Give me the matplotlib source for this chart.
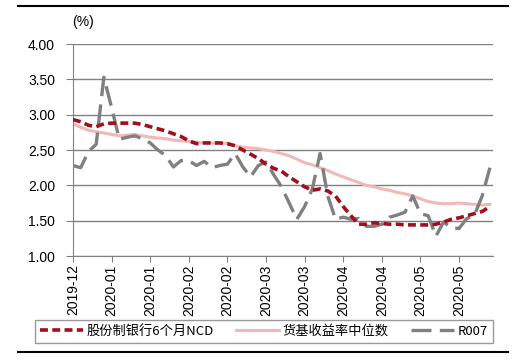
import numpy as np
import matplotlib.pyplot as plt
from matplotlib.lines import Line2D

plt.rcParams['font.family'] = ['Liberation Sans', 'Noto Sans CJK SC', 'DejaVu Sans']

tick_labels = ["2019-12", "2020-01", "2020-01", "2020-02", "2020-02", "2020-03",
               "2020-03", "2020-04", "2020-04", "2020-05", "2020-05"]

ncd = [2.93, 2.90, 2.85, 2.83, 2.87, 2.88, 2.88, 2.88, 2.88, 2.86,
       2.83, 2.80, 2.77, 2.73, 2.69, 2.63, 2.59, 2.60, 2.60, 2.60,
       2.59, 2.56, 2.50, 2.44, 2.38, 2.30, 2.24, 2.20, 2.12, 2.05,
       1.98, 1.93, 1.95, 1.92, 1.85, 1.70, 1.57, 1.45, 1.45, 1.47,
       1.46, 1.45, 1.45, 1.44, 1.44, 1.44, 1.44, 1.45, 1.48, 1.52,
       1.54, 1.57, 1.60, 1.63, 1.70]

mmf = [2.87, 2.82, 2.78, 2.76, 2.74, 2.72, 2.70, 2.71, 2.72, 2.70,
       2.68, 2.67, 2.66, 2.64, 2.63, 2.62, 2.61, 2.60, 2.60, 2.60,
       2.59, 2.56, 2.54, 2.53, 2.52, 2.50, 2.48, 2.45, 2.42, 2.37,
       2.32, 2.29, 2.25, 2.21, 2.16, 2.12, 2.08, 2.04, 2.00, 1.98,
       1.95, 1.93, 1.90, 1.88, 1.85, 1.81, 1.77, 1.75, 1.74, 1.74,
       1.75, 1.74, 1.73, 1.72, 1.73]

r007 = [2.28, 2.25, 2.48, 2.58, 3.53, 3.10, 2.65, 2.68, 2.70, 2.66,
        2.60, 2.50, 2.42, 2.26, 2.35, 2.35, 2.28, 2.34, 2.25, 2.28,
        2.30, 2.45, 2.26, 2.12, 2.28, 2.33, 2.15, 1.98, 1.75, 1.52,
        1.70, 1.95, 2.45, 1.85, 1.52, 1.55, 1.52, 1.53, 1.42, 1.42,
        1.45, 1.55, 1.58, 1.62, 1.85, 1.60, 1.57, 1.28, 1.48, 1.40,
        1.39, 1.53, 1.58, 1.85, 2.25]

labels = ["股份制银行6个月NCD", "货基收益率中位数", "R007"]

x = np.arange(len(ncd))

fig = plt.figure(figsize=(5.21, 3.61), dpi=100)
ax = fig.add_axes([73/521, 1 - 256/361, 420/521, 212/361])

ax.plot(x, mmf, color="#f2b8b8", lw=2.2, label=labels[1], zorder=2)
ax.plot(x, r007, color="#808080", lw=2.4, dashes=(6, 2.5), label=labels[2], zorder=3)
ax.plot(x, ncd, color="#a00f1e", lw=2.6, dashes=(2.2, 1.2), label=labels[0], zorder=4)

ax.set_xlim(0, 54.4)
ax.set_ylim(1.0, 4.0)
ax.set_yticks(np.arange(1.0, 4.01, 0.5))
ax.set_yticklabels([f"{v:.2f}" for v in np.arange(1.0, 4.01, 0.5)], fontsize=10)
ax.set_xticks(np.arange(0, 51, 5))
ax.set_xticklabels(tick_labels, rotation=90, fontsize=10)
ax.grid(axis="y", color="#808080", lw=1)
ax.set_axisbelow(True)
for s in ["top", "right"]:
    ax.spines[s].set_visible(False)
for s in ["left", "bottom"]:
    ax.spines[s].set_color("#808080")
ax.tick_params(axis="y", length=5, color="#808080", pad=8)
ax.tick_params(axis="x", length=4, color="#808080", pad=2)

fig.text(72/521, 1 - 22/361, "(%)", fontsize=10, va="center")

handles = [
    Line2D([], [], color="#a00f1e", lw=2.6, dashes=(2.2, 1.2)),
    Line2D([], [], color="#f2b8b8", lw=2.2),
    Line2D([], [], color="#808080", lw=2.4, dashes=(6, 2.5)),
]
leg = fig.legend(handles, labels, loc="center", ncol=3, mode="expand",
                 bbox_to_anchor=(35/521, 1 - 344/361, 458/521, 25/361),
                 prop={"family": ["Noto Sans CJK SC", "DejaVu Sans"], "size": 9.5},
                 frameon=True, fancybox=False, handlelength=3.2, handletextpad=0.3,
                 borderaxespad=0, columnspacing=1.0)
leg.get_frame().set_edgecolor("#808080")
leg.get_frame().set_linewidth(1)

fig.add_artist(Line2D([18/521, 508/521], [1 - 6/361, 1 - 6/361], color="black", lw=1.5))
fig.add_artist(Line2D([18/521, 508/521], [1 - 352/361, 1 - 352/361], color="black", lw=1.5))

fig.savefig("out.png", dpi=100)
